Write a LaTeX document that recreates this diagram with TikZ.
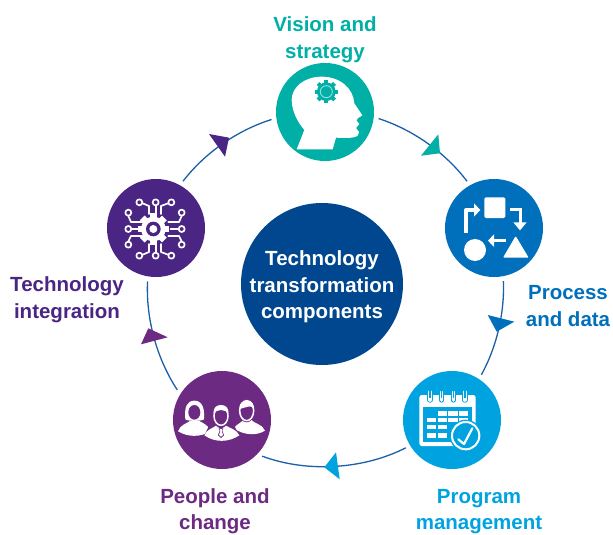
\documentclass[tikz,border=0pt]{standalone}
\usepackage{fontspec}
\setmainfont{Liberation Sans}
\definecolor{tealc}{HTML}{00B0A6}
\definecolor{procblue}{HTML}{0070BD}
\definecolor{progblue}{HTML}{00A3E0}
\definecolor{pplpurple}{HTML}{6D2A82}
\definecolor{techpurple}{HTML}{4A2583}
\definecolor{navy}{HTML}{00478F}
\definecolor{ringblue}{HTML}{1B5FAA}
\tikzset{
 x=1pt,y=-1pt,
 hub/.style={circle,inner sep=0pt,minimum size=98pt,outer sep=5pt},
 lab/.style={font=\bfseries\fontsize{20.5}{27}\selectfont,align=center,inner sep=0pt},
 labtight/.style={font=\bfseries\fontsize{20.5}{26}\selectfont,align=center,inner sep=0pt},
 ring/.style={draw=ringblue,line width=1.3pt,looseness=0.85},
 iconl/.style={draw=white,line width=1.5pt,fill=none,line cap=round,line join=round},
}
\begin{document}
\begin{tikzpicture}
\useasboundingbox (0,0) rectangle (613,535);
\node[hub,fill=navy,minimum size=162pt,outer sep=0pt,font=\bfseries\fontsize{20.5}{26.5}\selectfont,text=white,align=center] (core) at (322,284) {};
\node[font=\bfseries\fontsize{20.5}{26.5}\selectfont,text=white,align=center,inner sep=0pt] (corelabel) at (322,287) {Technology\\transformation\\components};
\node[hub,fill=tealc] (vision) at (325,112) {};
\node[hub,fill=procblue] (process) at (494,228) {};
\node[hub,fill=progblue] (program) at (452,420) {};
\node[hub,fill=pplpurple] (people) at (222,420) {};
\node[hub,fill=techpurple] (tech) at (156,228) {};
% ring arcs
\draw[ring] (vision.-7) to[bend left=17.5] (process.120);
\draw[ring] (process.-80) to[bend left=15.5] (program.57);
\draw[ring] (program.-149) to[bend left=23.8] (people.-42.5);
\draw[ring] (people.146) to[bend left=18] (tech.-99.5);
\draw[ring] (tech.60) to[bend left=17.5] (vision.-172.6);
% arrowheads
\fill[tealc] (438.3,134.3) -- (421,155.7) -- (440,153.3) -- cycle;
\fill[procblue] (487.7,315) -- (514.3,321.7) -- (496.7,331.7) -- cycle;
\fill[progblue] (324.3,467.3) -- (336,452.3) -- (339.7,479.3) -- cycle;
\fill[pplpurple] (141,344.3) -- (148.3,328.3) -- (167.7,337.3) -- cycle;
\fill[techpurple] (209,134) -- (229,137.7) -- (225,156.7) -- cycle;
% head icon
\begin{scope}[shift={(260,50)},scale=1/3]
\fill[white] (110,298) -- (133,240)
  .. controls (112,215) and (96,185) .. (95,150)
  .. controls (95,110) and (135,80) .. (185,80)
  .. controls (240,80) and (280,115) .. (283,160)
  -- (307,196) -- (293,205) -- (290,212) -- (298,222) -- (288,234) -- (297,246)
  .. controls (298,262) and (280,266) .. (228,263)
  -- (218,298) -- cycle;
\foreach \a in {0,45,90,135}
  \fill[tealc,rotate around={\a:(199,125)}] (193,90) rectangle (205,160);
\fill[tealc] (199,125) circle[radius=28];
\draw[white!60!tealc,line width=0.9pt] (199,125) circle[radius=18];
\end{scope}
% process icon
\begin{scope}[shift={(430,170)},scale=1/3]
\fill[white,rounded corners=1.5pt] (163,82) rectangle (226,144);
\fill[white] (135,240) circle[radius=33];
\fill[white,rounded corners=1pt] (257,198) -- (296,263) -- (219,263) -- cycle;
\draw[white,line width=4pt,line join=round] (108,188) -- (108,120) -- (135,120);
\fill[white] (132,100) -- (151,120) -- (132,140) -- cycle;
\draw[white,line width=3pt] (240,118) -- (270,118) -- (270,160);
\fill[white] (250,157) -- (290,157) -- (270,181) -- cycle;
\draw[white,line width=3pt] (229,212) -- (190,212);
\fill[white] (192,193) -- (174,212) -- (192,231) -- cycle;
\end{scope}
% calendar icon
\begin{scope}[shift={(390,350)},scale=1/3]
\fill[white,rounded corners=2.5pt] (88,135) rectangle (257,288);
\fill[progblue] (100,170) rectangle (245,275);
\foreach \x in {120,155,190,225} {
  \draw[progblue,line width=5.4pt,line cap=round] (\x,130) -- (\x,150);
  \draw[white,line width=3.6pt,line cap=round] (\x,126) -- (\x,150);
  \draw[progblue,line width=1.2pt] (\x,118) -- (\x,143);
}
\foreach \x/\y in {143/183,175/183,207/183,110/203,143/203,175/203,207/203,110/224,143/224,110/249,143/249}
  \fill[white] (\x,\y) rectangle ++(28,14);
\fill[progblue] (227,257) circle[radius=48];
\draw[white,line width=2pt] (227,257) circle[radius=41];
\draw[iconl,line width=2.2pt] (205,268) -- (222,282) -- (247,235);
\end{scope}
% people icon
\begin{scope}[shift={(160,360)},scale=1/3]
\fill[white] (76,178) .. controls (72,140) and (82,122) .. (103,122) .. controls (124,122) and (135,140) .. (132,178) .. controls (125,184) and (82,184) .. (76,178) -- cycle;
\fill[white] (54,214) .. controls (60,195) and (80,190) .. (90,183) -- (118,183) .. controls (130,190) and (145,195) .. (152,214) .. controls (120,232) and (85,232) .. (54,214) -- cycle;
\fill[pplpurple] (103,157) ellipse[x radius=18,y radius=22];
\fill[white] (222,205) .. controls (228,192) and (245,190) .. (250,178) -- (272,178) .. controls (280,190) and (308,192) .. (315,212) .. controls (290,228) and (250,226) .. (222,205) -- cycle;
\fill[pplpurple] (260,152) ellipse[x radius=25,y radius=35];
\draw[white,line width=1.5pt] (260,152) ellipse[x radius=21,y radius=30];
\fill[white] (239,148) .. controls (236,128) and (250,122) .. (262,122) .. controls (276,122) and (284,135) .. (281,148) .. controls (275,132) and (262,142) .. (245,145) -- cycle;
\fill[pplpurple] (183,165) ellipse[x radius=35,y radius=42];
\fill[pplpurple] (125,245) -- (150,190) -- (220,190) -- (245,245) -- cycle;
\fill[white] (133,226) .. controls (140,208) and (158,205) .. (168,197) -- (198,197) .. controls (210,205) and (230,208) .. (238,226) .. controls (205,248) and (165,248) .. (133,226) -- cycle;
\fill[pplpurple] (168,197) -- (183,207) -- (198,197) -- (190,192) -- (176,192) -- cycle;
\fill[pplpurple] (176,205) -- (190,205) -- (187,212) -- (192,226) -- (183,234) -- (174,226) -- (179,212) -- cycle;
\fill[white] (179,207) -- (187,207) -- (185,213) -- (189,225) -- (183,230) -- (177,225) -- (181,213) -- cycle;
\draw[white,line width=1.5pt] (183,168) ellipse[x radius=21,y radius=28];
\fill[white] (161,162) .. controls (158,143) and (170,135) .. (183,135) .. controls (196,135) and (208,143) .. (205,162) .. controls (198,146) and (168,146) .. (161,162) -- cycle;
\end{scope}
% technology icon
\begin{scope}[shift={(100,170)},scale=1/3]
\foreach \a in {0,45,90,135}
  \fill[white,rotate around={\a:(160,177)}] (150,130) rectangle (170,224);
\fill[white] (160,177) circle[radius=37];
\fill[techpurple] (160,177) circle[radius=22];
\fill[white] (160,177) circle[radius=12];
\begin{scope}[iconl,line width=1.7pt]
\draw (118,97) circle[radius=9];
\draw (167,97) circle[radius=9];
\draw (214,97) circle[radius=9];
\draw (85,128) circle[radius=9];
\draw (85,177) circle[radius=9];
\draw (85,224) circle[radius=9];
\draw (245,128) circle[radius=9];
\draw (245,177) circle[radius=9];
\draw (245,224) circle[radius=9];
\draw (118,257) circle[radius=9];
\draw (167,257) circle[radius=9];
\draw (214,257) circle[radius=9];
\draw (128,100) -- (147,108) -- (147,132);
\draw (167,107) -- (167,132);
\draw (204,100) -- (183,108) -- (183,132);
\draw (85,138) -- (93,156) -- (125,156);
\draw (95,177) -- (118,177);
\draw (85,214) -- (93,198) -- (125,198);
\draw (245,138) -- (237,156) -- (205,156);
\draw (235,177) -- (212,177);
\draw (245,214) -- (237,198) -- (205,198);
\draw (128,254) -- (147,246) -- (147,222);
\draw (167,247) -- (167,222);
\draw (204,254) -- (183,246) -- (183,222);
\end{scope}
\end{scope}
% labels
\node[lab,text=tealc] (lv) at (325,40) {Vision and\\strategy};
\node[lab,text=procblue] (lp) at (568,306.5) {Process\\and data};
\node[labtight,text=progblue] (lg) at (479,511.5) {Program\\management};
\node[labtight,text=pplpurple] (ln) at (215,511.5) {People and\\change};
\node[lab,text=techpurple] (lt) at (67,299.5) {Technology\\integration};
\end{tikzpicture}
\end{document}
